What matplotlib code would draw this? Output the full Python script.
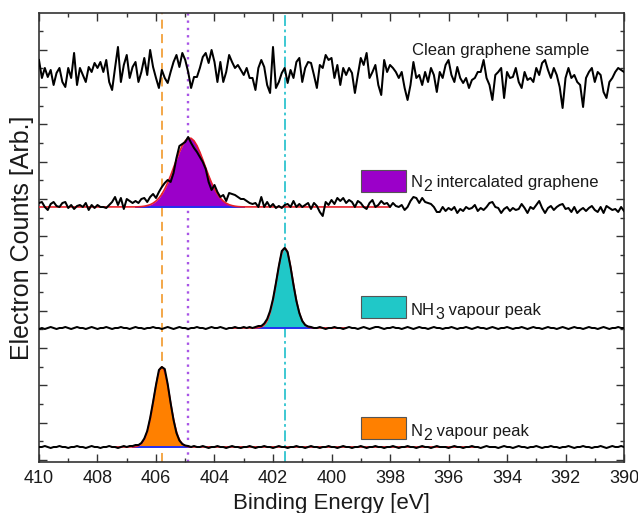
import numpy as np
import matplotlib
matplotlib.use('Agg')
import matplotlib.pyplot as plt
from matplotlib.patches import Rectangle
from matplotlib.ticker import MultipleLocator

plt.rcParams['font.family'] = ['Liberation Sans', 'DejaVu Sans']

# ---------------- data ----------------
energy = np.linspace(410.0, 390.0, 201)   # binding energy grid, 0.1 eV step

clean_counts = [
    402,384,394,385,392,377,389,394,380,375,394,384,409,377,394,387,380,395,390,399,
    394,400,390,402,380,372,394,415,380,397,407,384,395,400,380,390,404,387,412,395,
    384,374,392,384,379,390,400,407,395,409,402,
    390,374,385,385,394,405,409,399,412,400,380,400,380,390,407,400,394,397,392,387,
    394,384,384,372,394,402,395,377,369,415,374,380,389,394,379,392,384,400,404,380,
    394,400,399,387,374,397,394,407,402,404,
    384,397,377,394,387,394,389,369,387,404,397,409,384,390,397,377,367,402,390,397,
    394,390,384,390,374,362,377,400,384,387,377,390,380,394,387,370,390,384,397,402,
    387,380,395,384,379,384,374,382,384,390,
    390,402,384,377,362,387,390,394,364,390,384,385,394,380,374,390,382,384,380,394,
    387,399,402,392,384,394,387,375,354,384,394,384,387,380,377,355,384,390,394,380,
    390,387,370,364,380,384,390,394,392,390]

intercalated_counts = [
    259,260,255,252,258,260,256,255,259,260,
    254,257,253,256,257,255,259,252,257,254,
    257,255,255,254,257,260,265,257,264,253,
    263,261,259,261,259,263,264,260,265,268,
    264,270,275,279,282,280,289,304,316,318,
    320,325,319,314,310,305,300,293,280,272,
    277,270,265,267,261,269,268,
    267,265,263,263,261,259,258,259,255,265,
    255,260,255,258,254,256,254,257,258,255,
    261,255,258,255,257,259,253,259,256,250,
    246,260,257,262,258,264,261,264,259,262,
    260,255,261,259,255,253,259,262,255,257,
    261,258,259,255,259,256,255,257,252,255,
    261,265,264,259,264,260,259,
    258,255,250,250,255,251,254,252,255,249,
    253,251,255,253,254,257,251,254,252,255,
    259,260,255,254,249,253,255,251,254,252,
    253,258,254,249,255,253,257,261,254,249,
    254,256,252,255,257,258,253,254,250,255,
    249,252,254,251,254,256,252,250,255,249,
    256,254,252,253,250,255,251]

nh3_counts = [
    133,134,133,134,135,134,133,134,134,135,
    134,133,134,135,134,134,133,134,135,134,
    133,134,134,135,134,133,134,134,135,134,
    134,133,134,135,134,134,133,134,134,135,
    134,134,133,134,135,134,133,134,135,134,
    134,133,134,134,135,134,134,133,134,135,
    134,134,135,134,133,134,134,135,134,134,
    135,134,135,134,135,136,
    136,138.5,143,151,163,179,196,211,214,210,195,177,161,149,141,137,135.5,
    135,134,134,135,134,133,134,
    134,135,134,134,133,134,135,134,134,133,
    134,135,134,133,134,135,135,134,133,134,
    134,135,134,134,133,134,135,134,133,134,
    135,134,134,133,134,135,134,134,133,134,
    134,135,134,133,134,134,135,134,133,134,
    135,134,134,133,134,135,134,133,134,134,
    135,134,133,134,134,135,134,133,134,135,
    134,134,133,134,135,134,134,133,134,135,
    134,133,134,135,134,134,133,134,135,134,
    134,133,134,135,134,133,134,134,135,134,134]

n2_vapour_counts = [
    15,15,16,15,14,15,15,16,15,15,
    14,15,15,16,15,15,14,15,16,15,
    15,14,15,15,16,15,15,14,15,16,
    15,16,16,17,
    17,19,23.5,31,44,60,77,92,95,93,78,59,42,29,21.5,18,16.5,
    16,15,16,15,15,16,15,14,15,
    15,16,15,15,14,15,16,15,15,14,
    15,15,16,15,14,15,15,16,15,15,
    14,15,16,15,15,14,15,15,16,15,
    15,14,15,16,15,15,14,15,15,16,
    15,15,14,15,16,15,15,14,15,15,
    16,15,14,15,15,16,15,15,14,15,
    15,16,15,14,15,15,16,15,15,14,
    15,16,15,15,14,15,16,15,15,15,
    14,15,16,15,15,14,15,15,16,15,
    15,14,15,16,15,15,15,14,15,16,
    15,15,14,15,16,15,15,14,15,15,
    16,15,14,15,15,16,15,15,14,15,
    15,16,15,14,15,15,16,15,15,14,
    15,15,16,15,14,15,16,15,15,16,15]

# fitted peaks
intercalated_base = 255
intercalated_fit_x = np.linspace(406.7, 403.0, 38)
intercalated_fit = [
    255.1,255.2,255.4,255.8,256.4,257.3,258.8,260.9,263.9,267.8,273.0,279.2,286.4,
    294.3,302.3,309.9,316.4,321.2,323.7,323.7,321.2,316.4,309.9,302.3,294.3,286.4,
    279.2,273.0,267.8,263.9,260.9,258.8,257.3,256.4,255.8,255.4,255.2,255.1]
intercalated_fit_span = (410.0, 398.0)

nh3_base = 134
nh3_fit_x = np.linspace(402.6, 400.6, 41)
nh3_fit = [134 + v for v in [
    0.1,0.2,0.4,0.7,1.2,2.0,3.2,5.0,7.5,10.9,15.4,21.1,27.9,35.7,44.3,53.0,61.5,69.0,
    74.9,78.7,80,78.7,74.9,69.0,61.5,53.0,44.3,35.7,27.9,21.1,15.4,10.9,7.5,5.0,3.2,
    2.0,1.2,0.7,0.4,0.2,0.1]]
nh3_fit_span = (403.5, 399.5)

n2_base = 15
n2_fit_x = np.linspace(406.8, 404.8, 41)
n2_fit = [15 + v for v in [
    0.1,0.2,0.4,0.7,1.2,2.0,3.2,5.0,7.5,10.9,15.4,21.1,27.9,35.7,44.3,53.0,61.5,69.0,
    74.9,78.7,80,78.7,74.9,69.0,61.5,53.0,44.3,35.7,27.9,21.1,15.4,10.9,7.5,5.0,3.2,
    2.0,1.2,0.7,0.4,0.2,0.1]]
n2_fit_span = (407.5, 395.0)

peak_positions = [405.8, 404.9, 401.6]   # N2 vapour, N2 intercalated, NH3

clean_label = 'Clean graphene sample'
# label pieces: (text, is_subscript)
label_intercalated = [('N', False), ('2', True), (' intercalated graphene', False)]
label_nh3 = [('NH', False), ('3', True), (' vapour peak', False)]
label_n2 = [('N', False), ('2', True), (' vapour peak', False)]

# ---------------- style ----------------
c_purple = '#9B00C9'
c_cyan = '#20C8C8'
c_orange = '#FF8000'
c_red = '#E8202A'
c_blue = '#2430F0'
c_text = '#1a1a1a'

fig = plt.figure(figsize=(6.38, 5.13), dpi=100)
ax = fig.add_axes([0.0611, 0.0994, 0.917, 0.8753])

# reference lines
ax.axvline(peak_positions[0], color='#F2A03A', lw=1.3, ls=(0, (5, 3)), zorder=1)
ax.axvline(peak_positions[1], color='#A855E6', lw=1.7, ls=(0, (1, 2.1)), zorder=1)
ax.axvline(peak_positions[2], color='#2EC4CF', lw=1.3, ls=(0, (6, 2, 1.5, 2)), zorder=1)

def draw_panel(fit_x, fit_y, base, span, fill_color):
    fit_x = np.asarray(fit_x)
    fit_y = np.asarray(fit_y)
    ax.fill_between(fit_x, base, fit_y, color=fill_color, lw=0, zorder=2)
    ax.plot(fit_x, np.full_like(fit_x, base), color=c_blue, lw=1.4, zorder=3)
    rx = np.concatenate([[span[0]], fit_x, [span[1]]])
    ry = np.concatenate([[base], fit_y, [base]])
    ax.plot(rx, ry, color=c_red, lw=1.2, zorder=4)

draw_panel(intercalated_fit_x, intercalated_fit, intercalated_base, intercalated_fit_span, c_purple)
draw_panel(nh3_fit_x, nh3_fit, nh3_base, nh3_fit_span, c_cyan)
draw_panel(n2_fit_x, n2_fit, n2_base, n2_fit_span, c_orange)

for counts in (clean_counts, intercalated_counts, nh3_counts, n2_vapour_counts):
    ax.plot(energy, counts, color='black', lw=1.45, zorder=5, solid_joinstyle='round')

# legend-like boxes and labels (axes fraction)
box_x, box_w, box_h = 0.5504, 0.0769, 0.049
text_x = 0.636
for (by, col) in [(0.6013, c_purple), (0.3207, c_cyan), (0.0512, c_orange)]:
    ax.add_patch(Rectangle((box_x, by), box_w, box_h, transform=ax.transAxes,
                           facecolor=col, edgecolor='#555555', lw=0.8, zorder=6))

ax.text(0.6376, 0.9065, clean_label, transform=ax.transAxes, fontsize=12,
        va='baseline', ha='left', color=c_text)

renderer = fig.canvas.get_renderer()

def draw_pieces(x, y, pieces, size=12, sub_size=11.5, sub_drop=4.5):
    dx = 0.0
    for txt, sub in pieces:
        t = ax.annotate(txt, xy=(x, y), xycoords='axes fraction',
                        xytext=(dx, -sub_drop if sub else 0), textcoords='offset pixels',
                        fontsize=sub_size if sub else size, va='baseline', ha='left',
                        color=c_text)
        bb = t.get_window_extent(renderer)
        dx += bb.width

draw_pieces(text_x, 0.6125, label_intercalated)
draw_pieces(text_x, 0.3274, label_nh3)
draw_pieces(text_x, 0.0586, label_n2)

# axes
ax.set_xlim(410, 390)
ax.set_ylim(0, 449)
ax.xaxis.set_major_locator(MultipleLocator(2))
ax.xaxis.set_minor_locator(MultipleLocator(1))
ax.yaxis.set_major_locator(MultipleLocator(37.3, offset=2))
ax.yaxis.set_minor_locator(MultipleLocator(18.65, offset=2))
ax.tick_params(which='both', direction='in', top=True, right=True, colors='#333333',
               labelcolor=c_text)
ax.tick_params(which='major', length=6, width=1.0, labelsize=13, pad=6)
ax.tick_params(which='minor', length=3, width=1.0)
ax.tick_params(axis='y', labelleft=False)
for s in ax.spines.values():
    s.set_linewidth(1.2)
    s.set_color('#333333')

ax.set_xlabel('Binding Energy [eV]', fontsize=16, labelpad=4, color=c_text)
ax.set_ylabel('Electron Counts [Arb.]', fontsize=18, labelpad=0, color=c_text)

fig.savefig('out.png', dpi=100)
